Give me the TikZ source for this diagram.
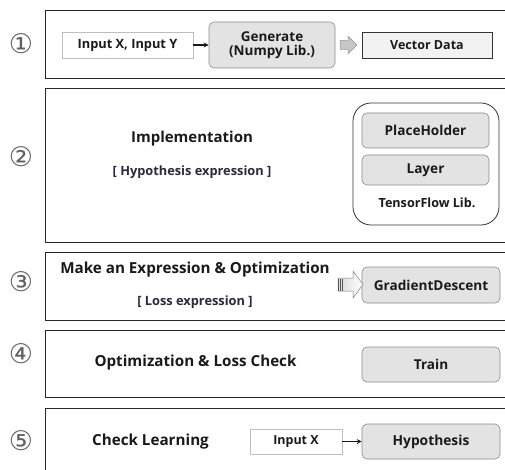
\documentclass[tikz,border=0pt]{standalone}
\usepackage{fontspec}
\setmainfont{Open Sans}
\newfontfamily\circfont{DejaVu Sans}
\usetikzlibrary{calc,arrows.meta}
\definecolor{ink}{HTML}{1A1A1A}
\definecolor{subink}{HTML}{2A2A40}
\begin{document}
\begin{tikzpicture}[x=1pt,y=-1pt,
  every node/.style={text=ink, font=\bfseries},
  panel/.style={draw=black!85, line width=0.9pt, inner sep=0pt},
  plainbox/.style={draw=black!25, fill=white, line width=0.6pt, inner sep=0pt},
  graybox/.style={draw=black!45, fill=black!11, rounded corners=5pt, line width=0.6pt, inner sep=0pt},
  databox/.style={draw=black!80, fill=black!5, line width=0.8pt, inner sep=0pt},
  numlabel/.style={font=\circfont\fontsize{27}{27}\selectfont, text=black!62},
  link/.style={-{Stealth[length=5pt,width=5pt]}, line width=1.1pt, black!90},
  fs/.style={font=\fontsize{#1}{#1}\selectfont\bfseries}
]
\clip (0,0) rectangle (505,470);
\fill[white] (0,0) rectangle (505,470);

% step panels (running past the right edge)
\node[panel, minimum width=475pt, minimum height=67.5pt] (p1) at (282.5,44.25) {};
\node[panel, minimum width=475pt, minimum height=154pt] (p2) at (282.5,165) {};
\node[panel, minimum width=475pt, minimum height=68pt] (p3) at (282.5,286) {};
\node[panel, minimum width=475pt, minimum height=67pt] (p4) at (282.5,363.5) {};
\node[panel, minimum width=475pt, minimum height=82pt] (p5) at (282.5,449) {};

% step numbers
\node[numlabel] (n1) at (21,44) {①};
\node[numlabel] (n2) at (21,157) {②};
\node[numlabel] (n3) at (21,282) {③};
\node[numlabel] (n4) at (21,354) {④};
\node[numlabel] (n5) at (21,441) {⑤};

% step 1: data generation
\node[plainbox, minimum width=131pt, minimum height=26pt, fs=12.8] (inxy) at (127.5,45) {Input X, Input Y};
\node[graybox, minimum width=126pt, minimum height=46pt, align=center, fs=13.5] (gen) at (272,45) {Generate\\[1pt](Numpy Lib.)};
\node[databox, minimum width=130pt, minimum height=26pt, fs=12.5] (vec) at (427,45) {Vector Data};
\draw[link] (inxy) -- (gen);
\draw[draw=black!40, fill=black!22, line width=0.5pt]
  (340,40.5) -- (348,40.5) -- (348,36) -- (357,45) -- (348,54) -- (348,49.5) -- (340,49.5) -- cycle;

% step 2: implementation
\node[fs=15] (impl) at (192,139) {Implementation};
\node[fs=12.8, text=subink] (hypexp) at (192,172) {[ Hypothesis expression ]};
\node[draw=black!80, line width=0.8pt, rounded corners=18pt, minimum width=146pt, minimum height=122pt] (tf) at (426,164) {};
\node[graybox, minimum width=127pt, minimum height=35pt, fs=13.6] (ph) at (425.5,130.5) {PlaceHolder};
\node[graybox, minimum width=127pt, minimum height=30pt, fs=13.6] (layer) at (425.5,170) {Layer};
\node[fs=12.6] (tflib) at (427,203) {TensorFlow Lib.};

% step 3: loss and optimizer
\node[fs=15.2] (make) at (195,270) {Make an Expression \& Optimization};
\node[fs=12.8, text=subink] (loss) at (195,302) {[ Loss expression ]};
\node[graybox, minimum width=138pt, minimum height=36pt, fs=13.6] (gd) at (431,285) {GradientDescent};
\shade[left color=black!15, right color=white, draw=black!50, line width=0.5pt]
  (338,278) -- (353,278) -- (353,271) -- (363,284.5) -- (353,298) -- (353,291) -- (338,291) -- cycle;
\foreach \sx in {338.8,340.6,342.4}
  \draw[black!65, line width=1pt] (\sx,278.5) -- (\sx,290.5);

% step 4: training
\node[fs=15.2] (opt) at (195.5,363) {Optimization \& Loss Check};
\node[graybox, minimum width=138pt, minimum height=35pt, fs=13.6] (train) at (431,364.5) {Train};

% step 5: check
\node[fs=15.2] (check) at (150.5,442) {Check Learning};
\node[plainbox, minimum width=92pt, minimum height=25pt, fs=12.5] (inx) at (296,441.5) {Input X};
\node[graybox, minimum width=138pt, minimum height=35pt, fs=13.8] (hyp) at (431,441.5) {Hypothesis};
\draw[link] (inx) -- (hyp);
\end{tikzpicture}
\end{document}
